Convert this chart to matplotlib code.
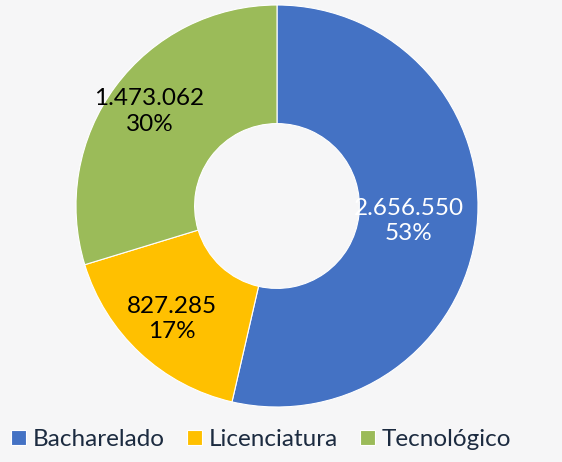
import numpy as np
import matplotlib.pyplot as plt

# data
categories = ['Bacharelado', 'Licenciatura', 'Tecnológico']
values = [2656550, 827285, 1473062]
value_labels = ['2.656.550', '827.285', '1.473.062']
pct_labels = ['53%', '17%', '30%']
colors = ['#4472c4', '#ffc000', '#9bbb59']
text_colors = ['white', 'black', 'black']
label_dist = [0.66, 0.77, 0.79]

plt.rcParams['font.family'] = ['Lato', 'DejaVu Sans']

fig = plt.figure(figsize=(5.62, 4.62), dpi=100)
fig.patch.set_facecolor('#f6f6f7')
ax = fig.add_axes([0, 0, 1, 1])

cx, cy, r = 277, 256, 201
wedges, _ = ax.pie(values, colors=colors, startangle=90, counterclock=False,
                   center=(cx, cy), radius=r, frame=True,
                   wedgeprops=dict(width=r * 0.59, edgecolor='white', linewidth=0.8))
ax.set_xlim(0, 562)
ax.set_ylim(0, 462)
ax.set_aspect('equal')
ax.axis('off')

# labels sit inside each ring segment
for w, vl, pl, tc, d in zip(wedges, value_labels, pct_labels, text_colors, label_dist):
    ang = np.deg2rad((w.theta1 + w.theta2) / 2)
    x = cx + d * r * np.cos(ang)
    y = cy + d * r * np.sin(ang)
    ax.text(x, y, vl + '\n' + pl, ha='center', va='center', fontsize=17.5,
            color=tc, linespacing=1.25)

fig.legend(wedges, categories, loc='center', bbox_to_anchor=(0.465, 0.048),
           ncol=3, frameon=False, fontsize=17.5, handlelength=0.6, handleheight=0.6,
           handletextpad=0.3, columnspacing=0.9, labelcolor='#1c2b40')

plt.savefig('out.png', dpi=100, facecolor=fig.get_facecolor())
